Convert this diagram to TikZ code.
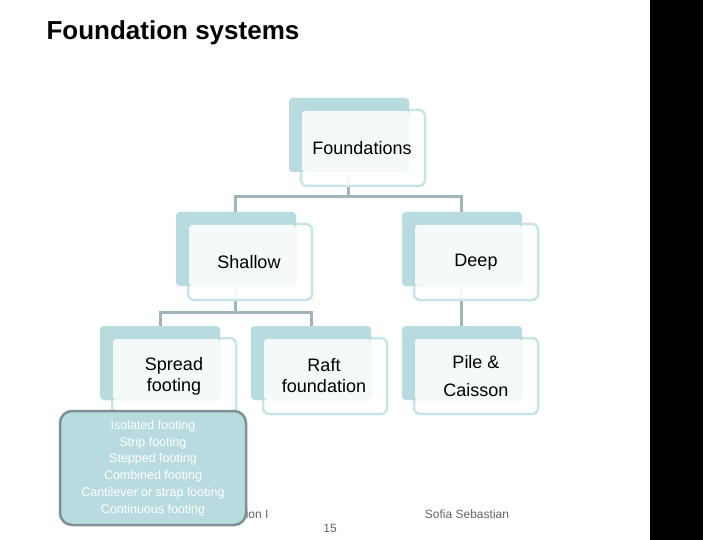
\documentclass[tikz,border=0pt]{standalone}
\usepackage{fontspec}
\setmainfont{Liberation Sans}
\begin{document}
\begin{tikzpicture}[x=1pt,y=-1pt,
  backbox/.style={fill=backc,draw=none,rounded corners=4pt},
  frontbox/.style={fill=white,fill opacity=0.9,draw=borderc,line width=2.5pt,rounded corners=6pt},
  lbl/.style={font=\fontsize{18}{21}\selectfont,align=center,text=black},
  conn/.style={draw=linec,line width=3pt},
  foot/.style={font=\fontsize{12}{14}\selectfont,text=footc}]
\definecolor{backc}{RGB}{183,219,223}
\definecolor{borderc}{RGB}{200,228,231}
\definecolor{linec}{RGB}{160,180,185}
\definecolor{footc}{RGB}{100,100,100}
\definecolor{popc}{RGB}{183,219,223}
\definecolor{popb}{RGB}{125,145,148}
\useasboundingbox (0,0) rectangle (720,540);
\fill[black] (650,0) rectangle (703,540);
\node[anchor=west,font=\fontsize{26}{30}\selectfont\bfseries] (title) at (43,33) {Foundation systems};
% connectors
\coordinate (j0) at (348,197);
\coordinate (jL) at (235,197);
\coordinate (jR) at (461,197);
\coordinate (k0) at (235,312);
\coordinate (kL) at (160,312);
\coordinate (kR) at (311,312);
% boxes
\foreach \n/\x/\y in {F/289/98,S/176/212,D/402/212,P/100/326,R/251/326,C/402/326}{
  \fill[backc,rounded corners=4pt] (\x,\y) rectangle ++(120,74);
}
\draw[conn] (348,176) -- (j0) -- (jL) -- (235,224);
\draw[conn] (j0) -- (jR) -- (461,224);
\draw[conn] (235,290) -- (k0) -- (kL) -- (160,326);
\draw[conn] (k0) -- (kR) -- (311,326);
\draw[conn] (461,290) -- (461,326);
\foreach \n/\x/\y in {F/289/98,S/176/212,D/402/212,P/100/326,R/251/326,C/402/326}{
  \draw[frontbox] (\x+12,\y+12) rectangle ++(124,76);
  \fill[backc,rounded corners=4pt] (\x,\y) rectangle ++(120,74);
  \fill[white,opacity=0.85,rounded corners=3pt] (\x+13,\y+13) rectangle ++(107,61);
}
\node[lbl] (nF) at (362,148) {Foundations};
\node[lbl] (nS) at (249,262) {Shallow};
\node[lbl] (nD) at (476,262) {Deep};
\node[lbl] (nP) at (174,376) {Spread\\footing};
\node[lbl] (nR) at (324,376) {Raft\\foundation};
\node[lbl,font=\fontsize{18}{28}\selectfont] (nC) at (476,376) {Pile \&\\Caisson};
\node[foot,anchor=east] (f1) at (272,514) {Foundation I};
\node[foot] (f2) at (467,514) {Sofia Sebastian};
\node[foot] (f3) at (330,528) {15};
\draw[fill=popc,draw=popb,line width=2.5pt,rounded corners=12pt] (60,411) rectangle (246,525);
\node[align=center,text=white,font=\fontsize{12.5}{16.8}\selectfont] (pop) at (153,468)
 {Isolated footing\\Strip footing\\Stepped footing\\Combined footing\\Cantilever or strap footing\\Continuous footing};
\end{tikzpicture}
\end{document}
